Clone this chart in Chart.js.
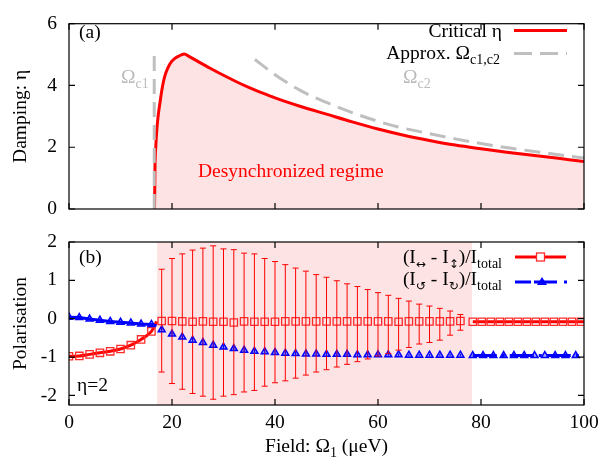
<!DOCTYPE html>
<html><head><meta charset="utf-8">
<script src="https://cdn.jsdelivr.net/npm/chart.js@4.4.1/dist/chart.umd.min.js"></script>
<style>
html,body{margin:0;padding:0;background:#fff;}
#wrap{position:relative;width:608px;height:460px;}
canvas{position:absolute;left:0;top:0;}
</style></head><body>
<div id="wrap"><canvas id="ca" width="608" height="460"></canvas><canvas id="cb" width="608" height="460"></canvas></div>
<script>
// ---------- data ----------
const xTicks = [0, 20, 40, 60, 80, 100];
const etaTicks = [0, 2, 4, 6];
const polTicks = [-2, -1, 0, 1, 2];

// (a) critical damping
const critX = [16.6,16.65,16.7,16.85,17.0,17.3,17.7,18.1,18.6,19.2,19.9,20.5,21.2,21.8,22.4,23.2,25,27.5,30,32.5,35,37.5,40,45,50,55,60,65,70,75,80,85,90,95,100];
const critY = [0,0.6,1.41,2.0,2.45,3.0,3.48,3.92,4.30,4.57,4.77,4.87,4.94,4.99,5.02,4.95,4.78,4.55,4.33,4.12,3.93,3.76,3.60,3.32,3.07,2.82,2.59,2.39,2.22,2.07,1.95,1.84,1.74,1.64,1.54];
// approximations
const c1X = [16.55, 16.55];
const c1Y = [0, 5.0];
const c2X = [36.1, 40, 44.9, 50, 56.5, 60, 64.3, 70, 75, 80, 83.7, 90, 95, 100];
const c2Y = [4.84, 4.35, 3.84, 3.45, 3.03, 2.84, 2.64, 2.44, 2.27, 2.12, 2.02, 1.87, 1.76, 1.65];

// (b) polarisation
const shadeX = [17.1, 78.3];
const shadeY = [2, 2];
const linLeftX = [0,2,4,6,8,10,12,13,14,15,16,16.5,17];
const linLeftY = [-0.98,-0.97,-0.93,-0.89,-0.85,-0.79,-0.69,-0.62,-0.54,-0.45,-0.33,-0.22,-0.07];
const midX = [18,20,22,24,26,28,30,32,34,36,38,40,42,44,46,48,50,52,54,56,58,60,62,64,66,68,70,72,74,76];
const linMidY = [-0.06,-0.06,-0.07,-0.08,-0.07,-0.08,-0.08,-0.10,-0.07,-0.08,-0.08,-0.08,-0.07,-0.07,-0.07,-0.07,-0.07,-0.07,-0.07,-0.07,-0.07,-0.07,-0.07,-0.08,-0.07,-0.07,-0.07,-0.07,-0.07,-0.06];
const linHi = [1.29,1.57,1.69,1.79,1.84,1.90,1.82,1.80,1.71,1.69,1.57,1.49,1.41,1.32,1.24,1.15,1.08,0.99,0.91,0.84,0.76,0.68,0.61,0.53,0.46,0.38,0.33,0.27,0.20,0.11];
const linLo = [-1.39,-1.69,-1.84,-1.95,-2.02,-2.10,-2.02,-1.98,-1.91,-1.87,-1.76,-1.67,-1.62,-1.55,-1.47,-1.39,-1.33,-1.26,-1.19,-1.12,-1.05,-0.97,-0.91,-0.82,-0.75,-0.66,-0.62,-0.56,-0.43,-0.30];
const linRightX = [78.4,80.15,81.9,83.65,85.4,87.15,88.9,90.65,92.4,94.15,95.9,97.65,99.4,100];
const linRightY = [-0.08,-0.08,-0.08,-0.08,-0.08,-0.08,-0.08,-0.08,-0.08,-0.08,-0.08,-0.08,-0.08,-0.08];
const circLeftX = [0,2,4,6,8,10,12,14,16,17];
const circLeftY = [0.04,0.03,-0.01,-0.04,-0.07,-0.09,-0.11,-0.14,-0.15,-0.18];
const circMidY = [-0.29,-0.40,-0.48,-0.56,-0.62,-0.69,-0.74,-0.78,-0.82,-0.85,-0.86,-0.88,-0.90,-0.91,-0.92,-0.92,-0.93,-0.93,-0.93,-0.94,-0.94,-0.94,-0.94,-0.94,-0.95,-0.95,-0.95,-0.95,-0.95,-0.95];
const circErr = [0.07,0.07,0.07,0.07,0.06,0.06,0.06,0.06,0.06,0.05,0.05,0.05,0.05,0.05,0.05,0.04,0.04,0.04,0.04,0.04,0.04,0.03,0.03,0.03,0.03,0.03,0.03,0.03,0.03,0.03];
const circRightX = [78.4,80.4,82.4,84.4,86.4,88.4,90.4,92.4,94.4,96.4,98.4,100];
const circRightY = [-0.96,-0.96,-0.96,-0.96,-0.96,-0.96,-0.96,-0.96,-0.96,-0.96,-0.96,-0.96];

// ---------- styles ----------
const SERIF = "'Liberation Serif','DejaVu Serif','Times New Roman',serif";
const ARROWS = "'DejaVu Sans','Noto Sans',sans-serif";
const RED = '#ff0000', BLUE = '#0000ff', GRAY = '#bfbfbf', PINK = '#fde3e3';
const MAIN = 19.5, SUB = 14;
Chart.defaults.font.family = SERIF;
Chart.defaults.font.size = MAIN;
Chart.defaults.color = '#000';

const pts = (xs, ys) => xs.map((x, i) => ({x, y: ys[i]}));

function fontOf(p) {
  if (p.arrow) return '12px ' + ARROWS;
  return (p.sub ? SUB : MAIN) + 'px ' + SERIF;
}
function rich(ctx, parts, x, y, align, color) {
  ctx.save();
  ctx.fillStyle = color || '#000';
  ctx.textBaseline = 'alphabetic';
  let w = 0;
  parts.forEach(p => { ctx.font = fontOf(p); w += ctx.measureText(p.t).width; });
  let cx = align === 'right' ? x - w : align === 'center' ? x - w / 2 : x;
  parts.forEach(p => {
    ctx.font = fontOf(p);
    ctx.fillText(p.t, cx, y + (p.sub || p.arrow ? 5 : 0));
    cx += ctx.measureText(p.t).width;
  });
  ctx.restore();
}

const framePlugin = {
  id: 'frame',
  afterDraw(chart) {
    const {ctx, chartArea: a, scales} = chart;
    ctx.save();
    ctx.strokeStyle = '#000'; ctx.lineWidth = 1.2;
    ctx.beginPath();
    scales.x.ticks.forEach(t => {
      const px = scales.x.getPixelForValue(t.value);
      ctx.moveTo(px, a.bottom); ctx.lineTo(px, a.bottom - 6);
      ctx.moveTo(px, a.top); ctx.lineTo(px, a.top + 6);
    });
    scales.y.ticks.forEach(t => {
      const py = scales.y.getPixelForValue(t.value);
      ctx.moveTo(a.left, py); ctx.lineTo(a.left + 6, py);
      ctx.moveTo(a.right, py); ctx.lineTo(a.right - 6, py);
    });
    ctx.stroke();
    ctx.strokeRect(a.left, a.top, a.right - a.left, a.bottom - a.top);
    ctx.restore();
  }
};

function xScale(showLabels, h) {
  return {
    type: 'linear', min: 0, max: 100,
    afterBuildTicks: s => { s.ticks = xTicks.map(v => ({value: v})); },
    ticks: {display: showLabels, padding: 6, font: {size: MAIN}},
    grid: {display: false, drawTicks: false},
    border: {display: false},
    afterFit: s => { s.height = h; }
  };
}
function yScale(min, max, ticks, title) {
  return {
    type: 'linear', min: min, max: max,
    afterBuildTicks: s => { s.ticks = ticks.map(v => ({value: v})); },
    ticks: {padding: 12, font: {size: MAIN}},
    grid: {display: false, drawTicks: false},
    border: {display: false},
    title: {display: true, text: title, font: {size: MAIN}, padding: {top: 9, bottom: 0}},
    afterFit: s => { s.width = 69; }
  };
}

// ---------- chart (a) ----------
const annotA = {
  id: 'annotA',
  afterDraw(chart) {
    const ctx = chart.ctx;
    rich(ctx, [{t: '(a)'}], 79, 38, 'left');
    rich(ctx, [{t: 'Ω'}, {t: 'c1', sub: true}], 121, 83, 'left', '#bbbbbb');
    rich(ctx, [{t: 'Ω'}, {t: 'c2', sub: true}], 403, 83, 'left', '#bbbbbb');
    rich(ctx, [{t: 'Desynchronized regime'}], 198, 177, 'left', RED);
    // legend
    rich(ctx, [{t: 'Critical η'}], 502, 37, 'right');
    rich(ctx, [{t: 'Approx. Ω'}, {t: 'c1,c2', sub: true}], 500, 59, 'right');
    ctx.save();
    ctx.lineWidth = 3; ctx.strokeStyle = RED;
    ctx.beginPath(); ctx.moveTo(514, 30.5); ctx.lineTo(567, 30.5); ctx.stroke();
    ctx.strokeStyle = GRAY; ctx.setLineDash([18, 8]);
    ctx.beginPath(); ctx.moveTo(514, 53.5); ctx.lineTo(567, 53.5); ctx.stroke();
    ctx.restore();
  }
};

new Chart(document.getElementById('ca'), {
  type: 'line',
  data: {datasets: [
    {data: pts(critX, critY), borderColor: RED, borderWidth: 3, fill: 'origin', backgroundColor: PINK,
     pointRadius: 0, cubicInterpolationMode: 'monotone', order: 3},
    {data: pts(c1X, c1Y), borderColor: GRAY, borderWidth: 3, borderDash: [15, 8], pointRadius: 0, fill: false, order: 1},
    {data: pts(c2X, c2Y), borderColor: GRAY, borderWidth: 3, borderDash: [16, 8], pointRadius: 0, fill: false,
     cubicInterpolationMode: 'monotone', order: 1}
  ]},
  options: {
    responsive: false, animation: false, devicePixelRatio: 1,
    layout: {padding: {top: 15, right: 24, left: 0, bottom: 0}},
    plugins: {legend: {display: false}, tooltip: {enabled: false}},
    scales: {x: xScale(false, 251), y: yScale(0, 6, etaTicks, 'Damping: η')}
  },
  plugins: [framePlugin, annotA]
});

// ---------- chart (b) ----------
const annotB = {
  id: 'annotB',
  afterDatasetsDraw(chart) {
    const {ctx, scales: {x, y}} = chart;
    ctx.save();
    ctx.lineWidth = 1; ctx.strokeStyle = RED;
    ctx.beginPath();
    midX.forEach((v, i) => {
      const px = x.getPixelForValue(v), pt = y.getPixelForValue(linHi[i]), pb = y.getPixelForValue(linLo[i]);
      ctx.moveTo(px, pt); ctx.lineTo(px, pb);
      ctx.moveTo(px - 3, pt); ctx.lineTo(px + 3, pt);
      ctx.moveTo(px - 3, pb); ctx.lineTo(px + 3, pb);
    });
    ctx.stroke();
    ctx.strokeStyle = BLUE;
    ctx.beginPath();
    midX.forEach((v, i) => {
      const px = x.getPixelForValue(v);
      ctx.moveTo(px, y.getPixelForValue(circMidY[i] + circErr[i]));
      ctx.lineTo(px, y.getPixelForValue(circMidY[i] - circErr[i]));
    });
    ctx.stroke();
    ctx.restore();
  },
  afterDraw(chart) {
    const ctx = chart.ctx, a = chart.chartArea;
    rich(ctx, [{t: '(b)'}], 79, 263, 'left');
    rich(ctx, [{t: 'η=2'}], 77, 391, 'left');
    rich(ctx, [{t: 'Field: Ω'}, {t: '1', sub: true}, {t: ' (μeV)'}], (a.left + a.right) / 2, 452, 'center');
    // legend
    rich(ctx, [{t: '(I'}, {t: '↔', arrow: true}, {t: ' - I'}, {t: '↕', arrow: true}, {t: ')/I'}, {t: 'total', sub: true}], 502, 263, 'right');
    rich(ctx, [{t: '(I'}, {t: '↺', arrow: true}, {t: ' - I'}, {t: '↻', arrow: true}, {t: ')/I'}, {t: 'total', sub: true}], 502, 285, 'right');
    ctx.save();
    ctx.lineWidth = 3; ctx.strokeStyle = RED;
    ctx.beginPath(); ctx.moveTo(515, 257); ctx.lineTo(566, 257); ctx.stroke();
    ctx.lineWidth = 1.3; ctx.strokeStyle = '#ff2a2a'; ctx.fillStyle = '#fff';
    ctx.fillRect(536.5, 253, 8, 8); ctx.strokeRect(536.5, 253, 8, 8);
    ctx.lineWidth = 3; ctx.strokeStyle = BLUE;
    ctx.beginPath();
    ctx.moveTo(515, 282); ctx.lineTo(531, 282);
    ctx.moveTo(534, 282); ctx.lineTo(557, 282);
    ctx.moveTo(564, 282); ctx.lineTo(567, 282);
    ctx.stroke();
    ctx.fillStyle = BLUE;
    ctx.beginPath(); ctx.moveTo(542, 277); ctx.lineTo(547, 285); ctx.lineTo(537, 285); ctx.closePath(); ctx.fill();
    ctx.restore();
  }
};

const evenMarker = (r) => (c) => {
  const p = c.raw; return (p && Number.isInteger(p.x) && p.x % 2 === 0) ? r : 0;
};
const notLast = (r, n) => (c) => (c.dataIndex < n - 1 ? r : 0);

const sq = {pointStyle: 'rect', pointBorderColor: '#ff2a2a', pointBackgroundColor: 'rgba(0,0,0,0)', pointBorderWidth: 1.3};
const tri = {pointStyle: 'triangle', pointBorderColor: BLUE, pointBackgroundColor: 'rgba(0,0,255,0.35)', pointBorderWidth: 1.5};

new Chart(document.getElementById('cb'), {
  type: 'line',
  data: {datasets: [
    {data: pts(shadeX, shadeY), borderWidth: 0, borderColor: 'rgba(0,0,0,0)', backgroundColor: PINK, fill: 'start', pointRadius: 0, order: 10},
    Object.assign({data: pts(linLeftX, linLeftY), borderColor: RED, borderWidth: 3, fill: false,
      cubicInterpolationMode: 'monotone', pointRadius: evenMarker(5.2), order: 4}, sq),
    Object.assign({data: pts(midX, linMidY), showLine: false, fill: false, pointRadius: 5.2, order: 4}, sq),
    Object.assign({data: pts(linRightX, linRightY), borderColor: RED, borderWidth: 3, fill: false,
      pointRadius: notLast(5.2, linRightX.length), order: 4}, sq),
    Object.assign({data: pts(circLeftX, circLeftY), borderColor: BLUE, borderWidth: 3, fill: false,
      pointRadius: notLast(4, circLeftX.length), order: 3}, tri),
    Object.assign({data: pts(midX, circMidY), showLine: false, fill: false, pointRadius: 4, order: 3}, tri),
    Object.assign({data: pts(circRightX, circRightY), borderColor: BLUE, borderWidth: 3, borderDash: [24, 5, 3, 5], fill: false,
      pointRadius: notLast(4, circRightX.length), order: 3}, tri)
  ]},
  options: {
    responsive: false, animation: false, devicePixelRatio: 1,
    layout: {padding: {top: 242, right: 24, left: 0, bottom: 0}},
    plugins: {legend: {display: false}, tooltip: {enabled: false}},
    scales: {x: xScale(true, 55), y: yScale(-2.25, 2, polTicks, 'Polarisation')}
  },
  plugins: [framePlugin, annotB]
});
</script>
</body></html>
